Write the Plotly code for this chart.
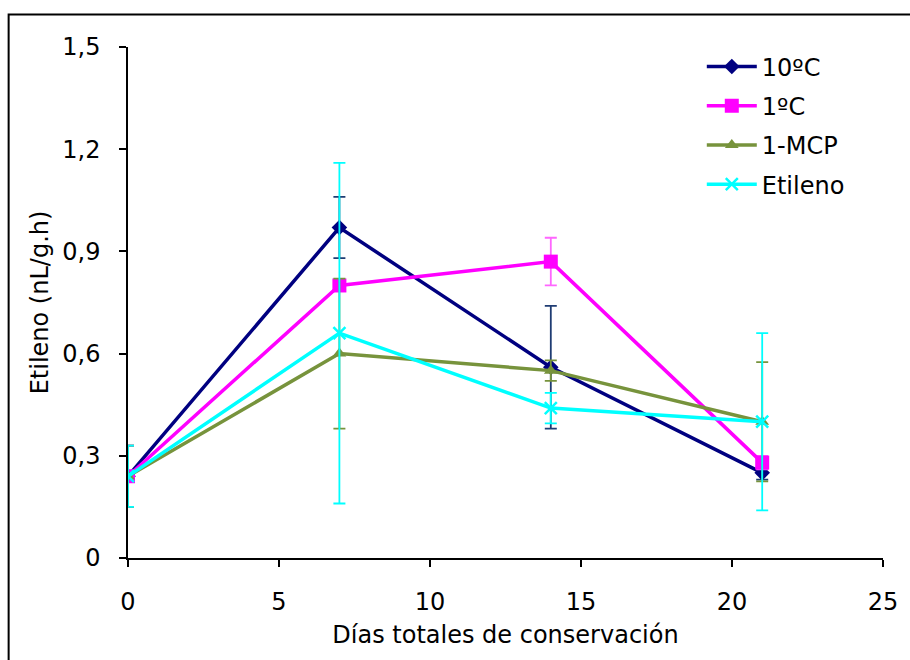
import plotly.graph_objects as go

dias = [0, 7, 14, 21]
series_names = ["10ºC", "1ºC", "1-MCP", "Etileno"]
v_10C = [0.24, 0.97, 0.56, 0.25]
v_1C = [0.24, 0.80, 0.87, 0.28]
v_mcp = [0.24, 0.60, 0.55, 0.40]
v_etil = [0.24, 0.66, 0.44, 0.40]
e_10C = [0.09, 0.09, 0.18, 0.02]
e_1C = [0.09, 0.015, 0.07, 0.02]
e_mcp = [0.09, 0.22, 0.03, 0.175]
e_etil = [0.09, 0.50, 0.045, 0.26]

y_ticks = [0, 0.3, 0.6, 0.9, 1.2, 1.5]
y_labels = ["0", "0,3", "0,6", "0,9", "1,2", "1,5"]
x_ticks = [0, 5, 10, 15, 20, 25]

FONT = "DejaVu Sans"
FS = 24

styles = [
    (v_10C, e_10C, "#000080", "#1F3C73", dict(symbol="diamond", size=12)),
    (v_1C, e_1C, "#FF00FF", "#FF66FF", dict(symbol="square", size=14)),
    (v_mcp, e_mcp, "#77933C", "#77933C", dict(symbol="triangle-up", size=12)),
    (v_etil, e_etil, "#00FFFF", "#00FFFF", dict(symbol="x-thin", size=12, line=dict(width=2.5, color="#00FFFF"))),
]

fig = go.Figure()
for i, (name, (vals, errs, col, ecol, mk)) in enumerate(zip(series_names, styles)):
    marker = dict(color=col, **{k: v for k, v in mk.items() if k != "line"})
    if "line" in mk:
        marker["line"] = mk["line"]
    fig.add_trace(go.Scatter(
        x=dias, y=vals, name=name, mode="lines+markers", legendgroup=f"g{i}",
        line=dict(color=col, width=3.5),
        marker=marker,
        error_y=dict(type="data", array=errs, visible=True, color=ecol, thickness=1.8, width=6),
    ))

fig.update_layout(
    width=910, height=660,
    margin=dict(l=128, r=23, t=47, b=102),
    paper_bgcolor="white", plot_bgcolor="white",
    font=dict(family=FONT, size=FS, color="black"),
    showlegend=True,
    legend=dict(x=0.76, y=1.005, xanchor="left", yanchor="top",
                font=dict(family=FONT, size=FS, color="black"),
                bgcolor="rgba(0,0,0,0)", itemwidth=50, tracegroupgap=5),
    xaxis=dict(range=[0, 25], tickvals=x_ticks, ticktext=[str(t) for t in x_ticks],
               showgrid=False, zeroline=False, showline=True, linecolor="black", linewidth=1.5,
               ticks="outside", ticklen=7, tickcolor="black", tickwidth=1.5, ticklabelstandoff=14,
               title=dict(text="Días totales de conservación", font=dict(family=FONT, size=FS), standoff=12)),
    yaxis=dict(range=[0, 1.5], tickvals=y_ticks, ticktext=y_labels,
               showgrid=False, zeroline=False, showline=True, linecolor="black", linewidth=1.5,
               ticks="outside", ticklen=7, tickcolor="black", tickwidth=1.5, ticklabelstandoff=14,
               title=dict(text="Etileno (nL/g.h)", font=dict(family=FONT, size=FS), standoff=7)),
    shapes=[dict(type="rect", xref="paper", yref="paper",
                 x0=(8 - 128) / 759, x1=1.2, y0=-0.3, y1=(558 - 14.5) / 511,
                 line=dict(color="black", width=2), fillcolor="rgba(0,0,0,0)", layer="below")],
)

fig.write_html("out.html")
